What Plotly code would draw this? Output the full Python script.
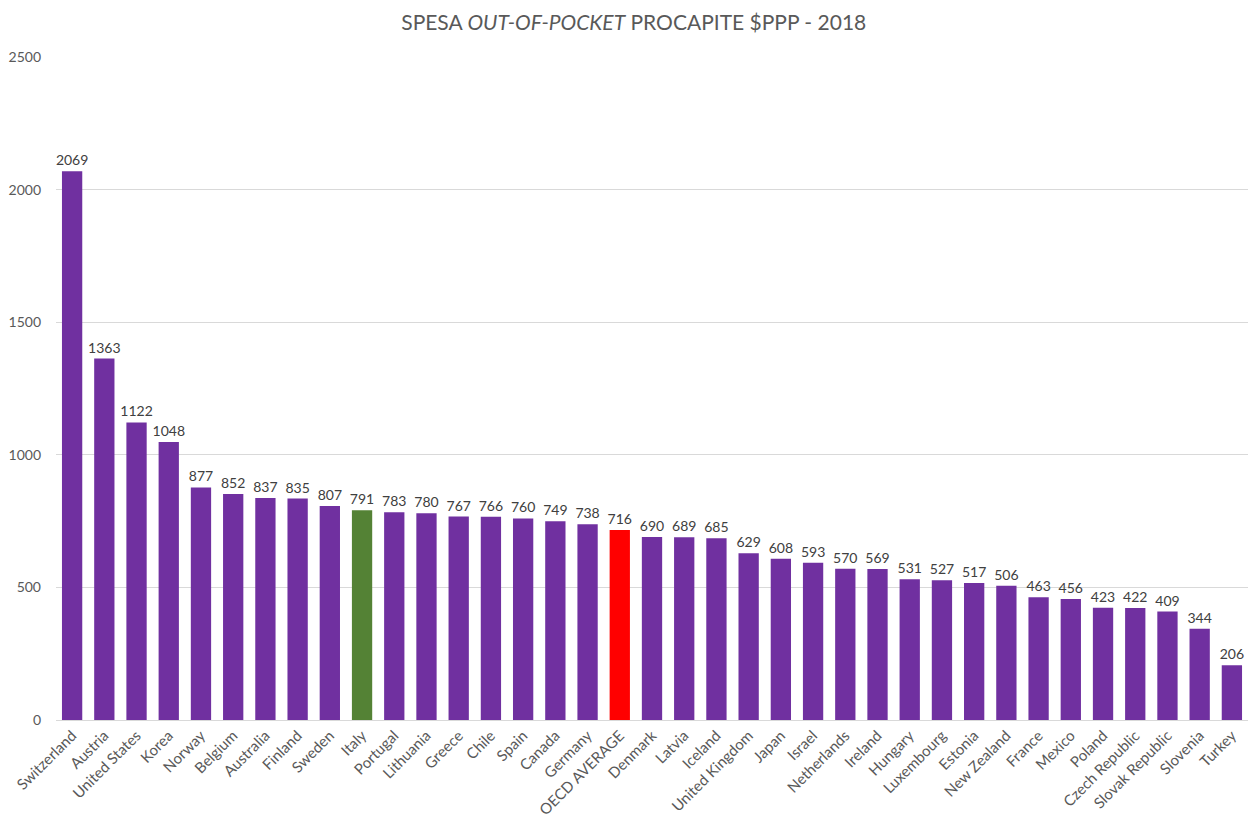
import plotly.graph_objects as go

countries = ["Switzerland", "Austria", "United States", "Korea", "Norway", "Belgium", "Australia",
             "Finland", "Sweden", "Italy", "Portugal", "Lithuania", "Greece", "Chile", "Spain",
             "Canada", "Germany", "OECD AVERAGE", "Denmark", "Latvia", "Iceland", "United Kingdom",
             "Japan", "Israel", "Netherlands", "Ireland", "Hungary", "Luxembourg", "Estonia",
             "New Zealand", "France", "Mexico", "Poland", "Czech Republic", "Slovak Republic",
             "Slovenia", "Turkey"]
values = [2069, 1363, 1122, 1048, 877, 852, 837, 835, 807, 791, 783, 780, 767, 766, 760, 749, 738,
          716, 690, 689, 685, 629, 608, 593, 570, 569, 531, 527, 517, 506, 463, 456, 423, 422, 409,
          344, 206]
y_ticks = [0, 500, 1000, 1500, 2000, 2500]

PURPLE = "#7030A0"
GREEN = "#548235"
RED = "#FF0000"
colors = [GREEN if c == "Italy" else RED if c == "OECD AVERAGE" else PURPLE for c in countries]

fig = go.Figure(go.Bar(
    x=countries, y=values, marker=dict(color=colors, line=dict(width=0)),
    text=[str(v) for v in values], textposition="outside", cliponaxis=False,
    textangle=0, constraintext="none",
    textfont=dict(size=14, color="#404040", family="Lato"),
    width=0.63,
))

fig.update_layout(
    width=1250, height=823,
    margin=dict(l=56, r=2, t=57, b=103),
    paper_bgcolor="white", plot_bgcolor="white",
    font=dict(family="Lato", color="#595959"),
    title=dict(
        text="SPESA <i>OUT-OF-POCKET</i> PROCAPITE $PPP - 2018",
        x=0.507, xanchor="center", y=0.973, yanchor="middle",
        font=dict(size=21, color="#595959", family="Lato"),
    ),
    showlegend=False,
    bargap=0.37,
)
fig.update_xaxes(
    tickangle=-45, tickfont=dict(size=15, color="#595959"), automargin=False,
    showline=True, linecolor="#D9D9D9", linewidth=1, ticks="",
)
fig.update_yaxes(
    range=[0, 2500], tickvals=y_ticks, tickfont=dict(size=14, color="#595959"),
    showgrid=True, gridcolor="#D9D9D9", gridwidth=1, zeroline=False,
    ticks="", ticklabelstandoff=14, automargin=False,
)

fig.write_html("out.html", config={"displayModeBar": False},
               post_script="document.body.style.margin='0';document.body.style.padding='0';")
